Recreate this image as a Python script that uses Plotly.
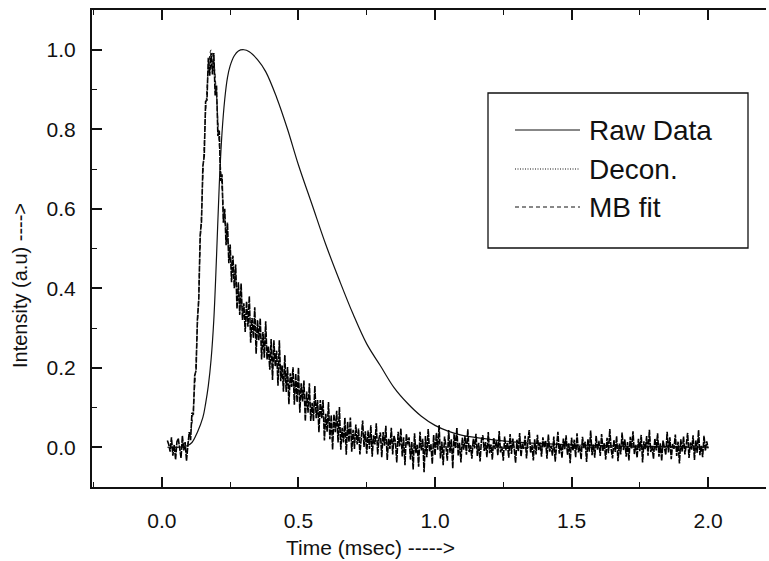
import numpy as np
import plotly.graph_objects as go

# ---------------- data ----------------
RAW_T = [0.03, 0.06, 0.09, 0.11, 0.13, 0.15, 0.16, 0.17, 0.18, 0.19, 0.20, 0.21,
         0.22, 0.23, 0.24, 0.25, 0.265, 0.28, 0.30, 0.32, 0.35, 0.38, 0.42, 0.46, 0.50,
         0.55, 0.60, 0.65, 0.70, 0.75, 0.80, 0.85, 0.90, 0.95, 1.00, 1.05, 1.10, 1.20,
         1.30, 1.40, 1.50, 1.60, 1.70, 1.80, 1.90, 2.00]
RAW_V = [0.0, 0.0, 0.003, 0.012, 0.038, 0.075, 0.11, 0.155, 0.22, 0.32, 0.48, 0.66,
         0.79, 0.875, 0.93, 0.96, 0.985, 0.997, 1.0, 0.995, 0.975, 0.945, 0.88, 0.80, 0.71,
         0.61, 0.51, 0.42, 0.335, 0.26, 0.205, 0.15, 0.11, 0.078, 0.055, 0.04, 0.03, 0.02,
         0.013, 0.009, 0.006, 0.004, 0.003, 0.002, 0.001, 0.0]

MB_T = [0.02, 0.06, 0.09, 0.10, 0.11, 0.12, 0.13, 0.14, 0.15, 0.16, 0.17, 0.18, 0.19,
        0.20, 0.21, 0.22, 0.23, 0.25, 0.275, 0.30, 0.35, 0.40, 0.45, 0.50, 0.55, 0.60,
        0.65, 0.70, 0.75, 0.80, 0.90, 1.00, 1.10, 1.20, 1.40, 1.60, 1.80, 2.00]
MB_V = [0.0, 0.0, 0.005, 0.02, 0.06, 0.15, 0.30, 0.50, 0.68, 0.84, 0.95, 1.0, 0.97,
        0.88, 0.76, 0.65, 0.57, 0.48, 0.40, 0.34, 0.29, 0.235, 0.18, 0.14, 0.105, 0.07,
        0.045, 0.03, 0.02, 0.013, 0.006, 0.003, 0.001, 0.0, 0.0, 0.0, 0.0, 0.0]

# deconvolved signal, sampled every 0.005 msec starting at 0.020 msec
DECON_T0 = 0.02
DECON_DT = 0.005
DECON_V = [
    0.017, 0.007, -0.011, 0.025, -0.021, 0.006, -0.031, 0.014, 0.022, -0.006,
    -0.027, 0.029, -0.008, 0.013, -0.034, 0.004,
    0.038, 0.018, 0.087, 0.082, 0.18, 0.193, 0.322, 0.37, 0.533, 0.568,
    0.707, 0.733, 0.87, 0.873, 0.98, 0.935, 0.992, 0.938, 0.992, 0.885,
    0.91, 0.783, 0.797, 0.67, 0.687, 0.565, 0.60, 0.508, 0.565, 0.463,
    0.51, 0.415, 0.482, 0.40, 0.46, 0.348, 0.415, 0.333, 0.412, 0.32, 0.362,
    0.29, 0.367, 0.303, 0.38, 0.263, 0.325, 0.275, 0.352, 0.235, 0.32,
    0.269, 0.324, 0.221, 0.29, 0.225, 0.317, 0.221, 0.254, 0.195, 0.272,
    0.169, 0.269, 0.203, 0.243, 0.155, 0.269, 0.166, 0.206, 0.14, 0.232,
    0.139, 0.202, 0.108, 0.186, 0.152, 0.201, 0.107, 0.185, 0.114, 0.20,
    0.087, 0.161, 0.115, 0.168, 0.066, 0.14, 0.087, 0.161, 0.066, 0.112,
    0.066, 0.154, 0.073, 0.119, 0.038, 0.119, 0.073, 0.119, 0.017, 0.084,
    0.039, 0.114, 0.02, 0.081, -0.006, 0.083, 0.038, 0.092, 0.012, 0.101,
    -0.006, 0.049, 0.012, 0.074, -0.019, 0.064, 0.013, 0.075, -0.011, 0.044,
    -0.004, 0.057, 0.007, 0.047, -0.018, 0.032, 0.067, 0.001, 0.040, -0.016,
    0.042, -0.004, 0.055, -0.024, 0.030, 0.007, 0.060, -0.018, 0.023, 0.037,
    -0.025, 0.038, 0.004, 0.054, -0.032, 0.021, -0.004, 0.049, -0.018, 0.029,
    0.014, -0.038, 0.039, 0.002, 0.047, -0.023, 0.025, -0.045, 0.033, 0.008,
    0.025, -0.031, 0.013, -0.056, 0.035, -0.015, 0.006, -0.049, 0.039, -0.008,
    0.021, -0.063, 0.028, -0.025, 0.046, -0.011, 0.008, -0.042, 0.031, -0.020,
    0.036, -0.006, 0.056, -0.028, 0.014, -0.045, 0.027, 0.003, -0.034, 0.043,
    -0.014, 0.020, -0.053, 0.034, -0.003, 0.049, -0.022, 0.011, -0.038, 0.024,
    -0.006, 0.028, -0.019, 0.045, -0.012, 0.005, -0.029, 0.021, -0.003, 0.034,
    -0.022, 0.011, -0.036, 0.018, 0.030, -0.009, 0.013, -0.025, 0.038, -0.015,
    0.007, -0.031, 0.024, -0.005, 0.016, -0.020, 0.041, -0.013, 0.002, -0.034,
    0.027, -0.008, 0.012, -0.026, 0.033, -0.017, 0.022, -0.003, -0.039, 0.019,
    -0.010, 0.036, -0.023, 0.009, -0.004, 0.029, -0.028, 0.015, 0.043, -0.014,
    0.006, -0.033, 0.020, -0.018, 0.031, -0.007, 0.012, -0.024, 0.025, -0.001,
    0.017, -0.029, 0.032, -0.011, 0.004, -0.021, 0.027, -0.036, 0.013, 0.039,
    -0.016, 0.008, -0.027, 0.022, -0.005, 0.030, -0.019, 0.010, -0.040, 0.024,
    -0.008, 0.019, -0.025, 0.035, -0.013, 0.003, -0.030, 0.026, -0.002, 0.014,
    -0.037, 0.021, -0.011, 0.042, -0.020, 0.007, -0.026, 0.029, -0.006, 0.016,
    -0.022, 0.033, -0.009, 0.011, -0.031, 0.024, -0.015, 0.046, -0.004, -0.028,
    0.018, -0.012, 0.028, -0.035, 0.009, -0.018, 0.037, -0.007, 0.020, -0.024,
    0.013, -0.033, 0.026, -0.003, 0.040, -0.017, 0.006, -0.026, 0.021, -0.010,
    0.031, -0.038, 0.015, -0.005, 0.028, -0.021, 0.044, -0.012, 0.003, -0.029,
    0.022, -0.008, 0.035, -0.024, 0.010, -0.034, 0.017, 0.001, -0.019, 0.039,
    -0.013, 0.025, -0.030, 0.008, -0.004, 0.032, -0.022, 0.014, -0.041, 0.020,
    -0.011, 0.027, -0.018, 0.006, 0.036, -0.027, 0.012, -0.006, 0.030, -0.032,
    0.018, -0.014, 0.043, -0.020, 0.004, -0.025, 0.029, -0.009, 0.015, -0.003,
]
DECON_T = list(np.round(DECON_T0 + DECON_DT * np.arange(len(DECON_V)), 4))

X_TICKS = [0.0, 0.5, 1.0, 1.5, 2.0]
X_LABELS = ["0.0", "0.5", "1.0", "1.5", "2.0"]
Y_TICKS = [0.0, 0.2, 0.4, 0.6, 0.8, 1.0]
Y_LABELS = ["0.0", "0.2", "0.4", "0.6", "0.8", "1.0"]
SERIES_NAMES = ["Raw Data", "Decon.", "MB fit"]
X_TITLE = "Time (msec) ----->"
Y_TITLE = "Intensity (a.u) ---->"

# ---------------- figure ----------------
FONT = "Liberation Sans, Arial, Helvetica, sans-serif"
INK = "#111111"

fig = go.Figure()
fig.add_trace(go.Scatter(x=RAW_T, y=RAW_V, mode="lines", name=SERIES_NAMES[0],
                         line=dict(color=INK, width=1.2, shape="spline"), showlegend=False))
fig.add_trace(go.Scatter(x=DECON_T, y=DECON_V, mode="lines", name=SERIES_NAMES[1],
                         line=dict(color="#000000", width=1.6, dash="6px,1px"),
                         showlegend=False))
fig.add_trace(go.Scatter(x=MB_T, y=MB_V, mode="lines", name=SERIES_NAMES[2],
                         line=dict(color=INK, width=1, dash="4px,3px", shape="spline"),
                         showlegend=False))

L, R, T, B = 92, 3, 10, 74
W, H = 769, 561
pw, ph = W - L - R, H - T - B


def px(x):
    return (x - L) / pw


def py(y):
    return (H - B - y) / ph


shapes = [dict(type="rect", xref="paper", yref="paper", x0=px(488), x1=px(748),
               y0=py(248), y1=py(93), line=dict(color=INK, width=1.3))]
annotations = []
rows = [130, 169, 207]
dashes = ["solid", "1px,1.5px", "4px,3px"]
for name, ry, dsh in zip(SERIES_NAMES, rows, dashes):
    shapes.append(dict(type="line", xref="paper", yref="paper", x0=px(515), x1=px(580),
                       y0=py(ry), y1=py(ry), line=dict(color=INK, width=1, dash=dsh)))
    annotations.append(dict(xref="paper", yref="paper", x=px(587), y=py(ry), text=name,
                            showarrow=False, xanchor="left", yanchor="middle",
                            font=dict(family=FONT, size=28, color=INK)))

annotations.append(dict(xref="paper", yref="paper", x=px(370), y=py(547), text=X_TITLE,
                        showarrow=False, xanchor="center", yanchor="middle",
                        font=dict(family=FONT, size=21, color=INK)))
annotations.append(dict(xref="paper", yref="paper", x=px(20), y=py(286), text=Y_TITLE,
                        showarrow=False, xanchor="center", yanchor="middle", textangle=-90,
                        font=dict(family=FONT, size=20, color=INK)))

fig.update_layout(
    width=W, height=H,
    margin=dict(l=L, r=R, t=T, b=B),
    paper_bgcolor="white", plot_bgcolor="white",
    showlegend=False,
    shapes=shapes, annotations=annotations,
    font=dict(family=FONT, color=INK),
)
fig.update_xaxes(range=[-0.256, 2.212], tickvals=X_TICKS, ticktext=X_LABELS,
                 ticks="inside", ticklen=10, tickwidth=1.5, tickcolor=INK,
                 minor=dict(ticks="inside", ticklen=5, tickwidth=1.2, dtick=0.25,
                            tick0=0, tickcolor=INK),
                 showline=True, linewidth=2, linecolor=INK, mirror="ticks",
                 showgrid=False, zeroline=False,
                 tickfont=dict(family=FONT, size=21, color=INK), ticklabelstandoff=14)
fig.update_yaxes(range=[-0.1, 1.1], tickvals=Y_TICKS, ticktext=Y_LABELS,
                 ticks="inside", ticklen=10, tickwidth=1.5, tickcolor=INK,
                 minor=dict(ticks="inside", ticklen=5, tickwidth=1.2, dtick=0.1,
                            tick0=0, tickcolor=INK),
                 showline=True, linewidth=2, linecolor=INK, mirror=False,
                 showgrid=False, zeroline=False,
                 tickfont=dict(family=FONT, size=21, color=INK), ticklabelstandoff=10)

fig.write_html("out.html")
